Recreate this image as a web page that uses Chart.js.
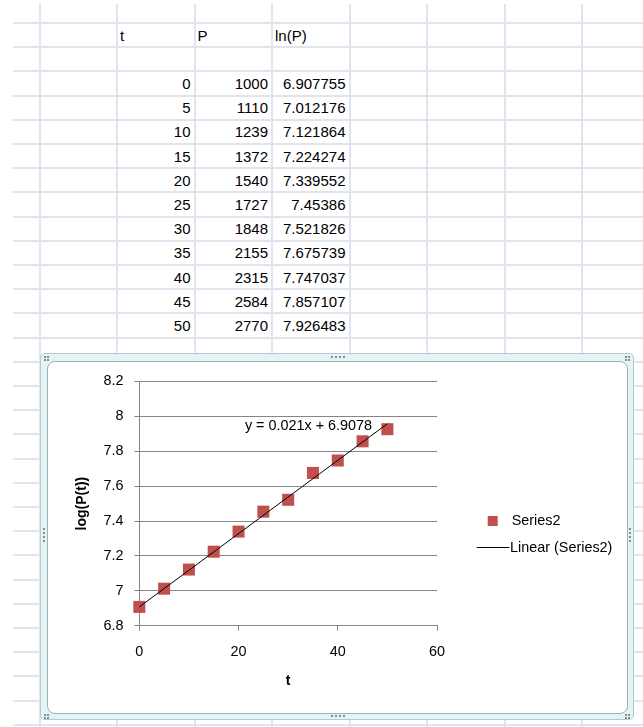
<!DOCTYPE html>
<html>
<head>
<meta charset="utf-8">
<script src="https://cdn.jsdelivr.net/npm/chart.js@4.4.0/dist/chart.umd.min.js"></script>
<style>
    body { margin: 0; width: 643px; height: 727px; overflow: hidden; background: #fff; position: relative; font-family: "Liberation Sans", Arial, sans-serif; }
    .vline { position: absolute; width: 2px; background: #e0e4ef; }
    .hline { position: absolute; height: 2px; background: #e0e4ef; }
    .cell { position: absolute; font-size: 15px; line-height: 24px; color: #000; white-space: nowrap; }
    #frame { position: absolute; left: 40px; top: 353px; width: 594px; height: 367px; box-sizing: border-box;
             border: 1px solid #b3c9cc; border-radius: 5px; background: #e3f4f5; }
    #inner { position: absolute; left: 47px; top: 361px; width: 581px; height: 353px; box-sizing: border-box;
             border: 1px solid #a4aeb0; border-radius: 8px; background: #fff; overflow: hidden; }
    #chart { position: absolute; left: 0; top: 0; }
    .dot { position: absolute; width: 2px; height: 2px; background: #7f8e90; }
</style>
</head>
<body>
<div id="sheet"></div>
<div id="frame"></div>
<div id="inner"><canvas id="chart" width="579" height="351"></canvas></div>
<div id="dots"></div>
<script>
// 表格和图表数据
const tValues = [0, 5, 10, 15, 20, 25, 30, 35, 40, 45, 50];
const pValues = [1000, 1110, 1239, 1372, 1540, 1727, 1848, 2155, 2315, 2584, 2770];
const lnPValues = [6.907755, 7.012176, 7.121864, 7.224274, 7.339552, 7.45386, 7.521826, 7.675739, 7.747037, 7.857107, 7.926483];
const headers = ['t', 'P', 'ln(P)'];
// 趋势线两端 (Excel 线性趋势线)
const trendT = [0, 50];
const trendLnP = [6.9078, 7.9578];
const trendLabel = 'y = 0.021x + 6.9078';
const xTicks = [0, 20, 40, 60];
const yTicks = [6.8, 7, 7.2, 7.4, 7.6, 7.8, 8, 8.2];
const seriesName = 'Series2';
const trendName = 'Linear (Series2)';

// 表格网格
const COL0 = 39.5, COLW = 77.5, ROW0 = 23, ROWH = 24.2;
const sheet = document.getElementById('sheet');
function addDiv(cls, css, text) {
    const d = document.createElement('div');
    d.className = cls;
    Object.assign(d.style, css);
    if (text !== undefined) d.textContent = text;
    sheet.appendChild(d);
    return d;
}
for (let k = 0; k < 8; k++) {
    addDiv('vline', { left: (COL0 + k * COLW - 1) + 'px', top: '4px', height: '723px' });
}
for (let r = 0; r < 30; r++) {
    addDiv('hline', { left: '13px', top: (ROW0 + r * ROWH - 1) + 'px', width: '630px' });
}
// 表头
headers.forEach((h, i) => {
    addDiv('cell', { left: (COL0 + (i + 1) * COLW + 3) + 'px', top: (ROW0 + 1) + 'px' }, h);
});
// 数据行
const cols = [tValues, pValues, lnPValues];
for (let r = 0; r < tValues.length; r++) {
    cols.forEach((col, i) => {
        const right = 643 - (COL0 + (i + 2) * COLW - 4);
        addDiv('cell', { right: right + 'px', top: (ROW0 + (r + 2) * ROWH + 0.5) + 'px' }, String(col[r]));
    });
}

// 图表边框上的拖动点
const dots = document.getElementById('dots');
function dot(x, y) {
    const d = document.createElement('div');
    d.className = 'dot';
    d.style.left = x + 'px';
    d.style.top = y + 'px';
    dots.appendChild(d);
}
for (let i = 0; i < 4; i++) {
    dot(331 + i * 4, 356); dot(331 + i * 4, 715);
    dot(43, 528 + i * 4); dot(629, 528 + i * 4);
}
[[44, 356], [625, 356], [44, 714], [625, 714]].forEach(([x, y]) => {
    dot(x, y); dot(x + 3, y); dot(x, y + 3); dot(x + 3, y + 3);
});

// 图表
const FONT = '"Liberation Sans", Arial, sans-serif';
Chart.defaults.font.family = FONT;
Chart.defaults.font.size = 14.4;
Chart.defaults.color = '#000';

const extrasPlugin = {
    id: 'extras',
    afterDatasetsDraw(chart) {
        const ctx = chart.ctx;
        const sx = chart.scales.x, sy = chart.scales.y;
        ctx.save();
        ctx.font = '14.4px ' + FONT;
        ctx.fillStyle = '#000';
        ctx.textAlign = 'center';
        ctx.textBaseline = 'middle';
        ctx.fillText(trendLabel, sx.getPixelForValue(34.1), sy.getPixelForValue(7.947));
        // 图例
        ctx.textAlign = 'left';
        ctx.fillStyle = '#C0504D';
        ctx.fillRect(439.7, 154, 10, 10);
        ctx.fillStyle = '#000';
        ctx.fillText(seriesName, 463.7, 159.5);
        ctx.strokeStyle = '#000';
        ctx.lineWidth = 1;
        ctx.beginPath();
        ctx.moveTo(428.7, 185.5);
        ctx.lineTo(461.3, 185.5);
        ctx.stroke();
        ctx.fillText(trendName, 462, 186);
        ctx.restore();
    }
};

const GRID = '#868686';
new Chart(document.getElementById('chart'), {
    type: 'scatter',
    data: {
        datasets: [{
            label: trendName,
            type: 'line',
            data: trendT.map((t, i) => ({ x: t, y: trendLnP[i] })),
            borderColor: '#000',
            borderWidth: 1,
            pointRadius: 0,
            fill: false,
            clip: false,
            order: 0
        }, {
            label: seriesName,
            data: tValues.map((t, i) => ({ x: t, y: lnPValues[i] })),
            pointStyle: 'rect',
            pointRadius: 8.5,
            backgroundColor: '#C0504D',
            borderColor: '#C0504D',
            borderWidth: 0,
            clip: false,
            order: 1
        }]
    },
    options: {
        responsive: false,
        animation: false,
        layout: { padding: { left: 21.6, top: 19.5, right: 190, bottom: 19.6 } },
        plugins: { legend: { display: false }, tooltip: { enabled: false } },
        scales: {
            x: {
                type: 'linear',
                min: 0,
                max: 60,
                afterBuildTicks: s => { s.ticks = xTicks.map(v => ({ value: v })); },
                afterFit: s => { s.height = 67.7; },
                grid: { drawOnChartArea: false, tickLength: 5, color: GRID },
                border: { color: GRID },
                ticks: { padding: 12.7, maxRotation: 0 },
                title: { display: true, text: 't', font: { size: 14, weight: 'bold' }, padding: { top: 4, bottom: 4 } }
            },
            y: {
                min: 6.8,
                max: 8.2,
                afterBuildTicks: s => { s.ticks = yTicks.map(v => ({ value: v })); },
                afterFit: s => { s.width = 69.7; },
                grid: { tickLength: 5, color: GRID },
                border: { color: GRID },
                ticks: { padding: 10.8, callback: v => String(+v.toFixed(1)) },
                title: { display: true, text: 'log(P(t))', font: { size: 14, weight: 'bold' }, padding: { top: 4, bottom: 4 } }
            }
        }
    },
    plugins: [extrasPlugin]
});
</script>
</body>
</html>
